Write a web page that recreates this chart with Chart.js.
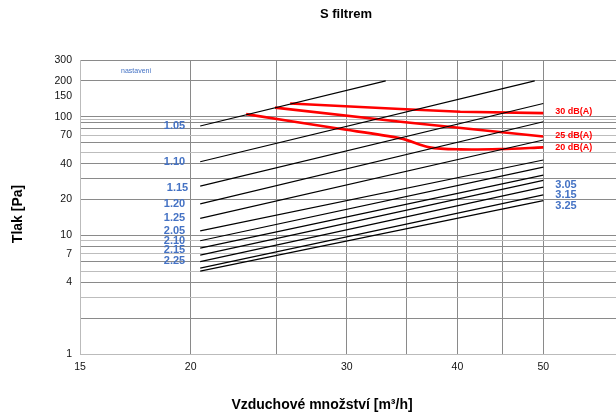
<!DOCTYPE html>
<html>
<head>
<meta charset="utf-8">
<script src="https://cdn.jsdelivr.net/npm/chart.js@4.4.1/dist/chart.umd.min.js"></script>
<style>
	html, body { margin: 0; padding: 0; background: #fff; }
	#wrap { width: 616px; height: 414px; position: relative; }
</style>
</head>
<body>
<div id="wrap"><canvas id="chart"></canvas></div>
<script>
// DATA
const settings = ["1.05", "1.10", "1.15", "1.20", "1.25", "2.05", "2.10", "2.15", "2.25", "3.05", "3.15", "3.25"];
const flowStart = [20.5, 20.5, 20.5, 20.5, 20.5, 20.5, 20.5, 20.5, 20.5, 20.5, 20.5, 20.5];
const flowEnd = [33.2, 48.9, 50, 50, 50, 50, 50, 50, 50, 50, 50, 50];
const pressureStart = [83.4, 41.7, 26.0, 18.4, 13.9, 10.9, 9.0, 7.8, 6.8, 6.0, 5.3, 5.0];
const pressureEnd = [200, 200, 129, 90.6, 63.5, 43.1, 37.6, 32.2, 29.0, 25.5, 21.9, 19.6];

const noiseLabels = ["30 dB(A)", "25 dB(A)", "20 dB(A)"];
const flow30 = [25.9, 34.5, 40.3, 50];
const press30 = [129, 116, 110, 107];
const flow25 = [24.9, 34.5, 50];
const press25 = [119, 90.6, 68];
const flow20 = [23.1, 29.2, 34.5, 37.2, 40.3, 44.7, 50];
const press20 = [105, 79.7, 65.6, 55.1, 53.0, 53.3, 55.1];

const xGrid = [15, 20, 25, 30, 35, 40, 45, 50];
const xTickLabels = [15, 20, 30, 40, 50];
const yGrid = [1, 2, 3, 4, 5, 6, 7, 8, 9, 10, 20, 30, 40, 50, 60, 70, 80, 90, 95, 100, 150, 200, 300];
const yTickLabels = [1, 4, 7, 10, 20, 40, 70, 100, 150, 200, 300];
const yLightGrid = [3, 5, 7, 9, 50, 70, 95];

const BLUE = "#4472c4";
const RED = "#ff0000";
const FONT = "'Liberation Sans', Arial, sans-serif";

function toPoints(xs, ys) {
	return xs.map((x, i) => ({x: x, y: ys[i]}));
}

const datasets = [];
settings.forEach((name, i) => {
	datasets.push({
		label: name,
		data: [{x: flowStart[i], y: pressureStart[i]}, {x: flowEnd[i], y: pressureEnd[i]}],
		borderColor: "#000",
		borderWidth: 1.2,
		showLine: true,
		pointRadius: 0
	});
});

const redSeries = [toPoints(flow30, press30), toPoints(flow25, press25), toPoints(flow20, press20)];
redSeries.forEach((pts, i) => {
	datasets.push({
		label: noiseLabels[i],
		data: pts,
		borderColor: RED,
		borderWidth: 2.6,
		showLine: true,
		pointRadius: 0,
		tension: i === 2 ? 0.3 : 0
	});
});

// texts drawn on top: titles, setting names, noise labels
const textPlugin = {
	id: "texts",
	afterDraw(chart) {
		const c = chart.ctx;
		const xs = chart.scales.x;
		const ys = chart.scales.y;
		c.save();
		c.textBaseline = "middle";

		c.fillStyle = "#000";
		c.textAlign = "center";
		c.font = "bold 13px " + FONT;
		c.fillText("S filtrem", 346, 14);
		c.font = "bold 14px " + FONT;
		c.fillText("Vzduchové množství [m³/h]", 322, 405);
		c.save();
		c.translate(18, 214);
		c.rotate(-Math.PI / 2);
		c.fillText("Tlak [Pa]", 0, 0);
		c.restore();

		c.fillStyle = BLUE;
		c.font = "7px " + FONT;
		c.fillText("nastaveni", 136, 71);

		// setting names, left side for most, right side for the 3.xx group
		const leftDy = {"1.15": 2, "2.15": 2, "2.25": 6};
		const rightDy = {"3.05": -2, "3.25": 5};
		c.font = "bold 11px " + FONT;
		settings.forEach((name, i) => {
			if (name.startsWith("3.")) {
				c.textAlign = "left";
				c.fillText(name, xs.getPixelForValue(flowEnd[i]) + 12, ys.getPixelForValue(pressureEnd[i]) + (rightDy[name] || 0));
			} else {
				c.textAlign = "right";
				const dx = name === "1.15" ? 3 : 0;
				c.fillText(name, xs.getPixelForValue(flowStart[i]) - 15 + dx, ys.getPixelForValue(pressureStart[i]) + (leftDy[name] || 0));
			}
		});

		c.fillStyle = RED;
		c.font = "bold 9px " + FONT;
		c.textAlign = "left";
		const ends = [press30[press30.length - 1], press25[press25.length - 1], press20[press20.length - 1]];
		const noiseDy = [-2, -1, 0];
		noiseLabels.forEach((lab, i) => {
			c.fillText(lab, xs.getPixelForValue(50) + 12, ys.getPixelForValue(ends[i]) + noiseDy[i]);
		});
		c.restore();
	}
};

new Chart(document.getElementById("chart"), {
	type: "scatter",
	data: {datasets: datasets},
	plugins: [textPlugin],
	options: {
		responsive: true,
		maintainAspectRatio: false,
		animation: false,
		layout: {padding: {top: 60, right: 0, bottom: 0, left: 0}},
		plugins: {
			legend: {display: false},
			tooltip: {enabled: false}
		},
		scales: {
			x: {
				type: "logarithmic",
				min: 15,
				max: 60.4,
				afterBuildTicks: (scale) => { scale.ticks = xGrid.map(v => ({value: v})); },
				afterFit: (scale) => { scale.height = 60; },
				grid: {color: "#8a8a8a", lineWidth: 1, drawTicks: false},
				border: {display: true, color: "#bbb"},
				ticks: {
					autoSkip: false,
					maxRotation: 0,
					padding: 7,
					color: "#111",
					font: {family: FONT, size: 10.5},
					callback: (v) => xTickLabels.includes(v) ? String(v) : ""
				}
			},
			y: {
				type: "logarithmic",
				min: 1,
				max: 300,
				afterBuildTicks: (scale) => { scale.ticks = yGrid.map(v => ({value: v})); },
				afterFit: (scale) => { scale.width = 80; },
				grid: {
					drawTicks: false,
					lineWidth: 1,
					color: (ctx) => {
						const v = ctx.tick ? ctx.tick.value : null;
						if (v === 150) return "rgba(0,0,0,0)";
						return yLightGrid.includes(v) ? "#bdbdbd" : "#8a8a8a";
					}
				},
				border: {display: true, color: "#bbb"},
				ticks: {
					autoSkip: false,
					padding: 8,
					color: "#111",
					font: {family: FONT, size: 10.5},
					callback: (v) => yTickLabels.includes(v) ? String(v) : ""
				}
			}
		}
	}
});
</script>
</body>
</html>
